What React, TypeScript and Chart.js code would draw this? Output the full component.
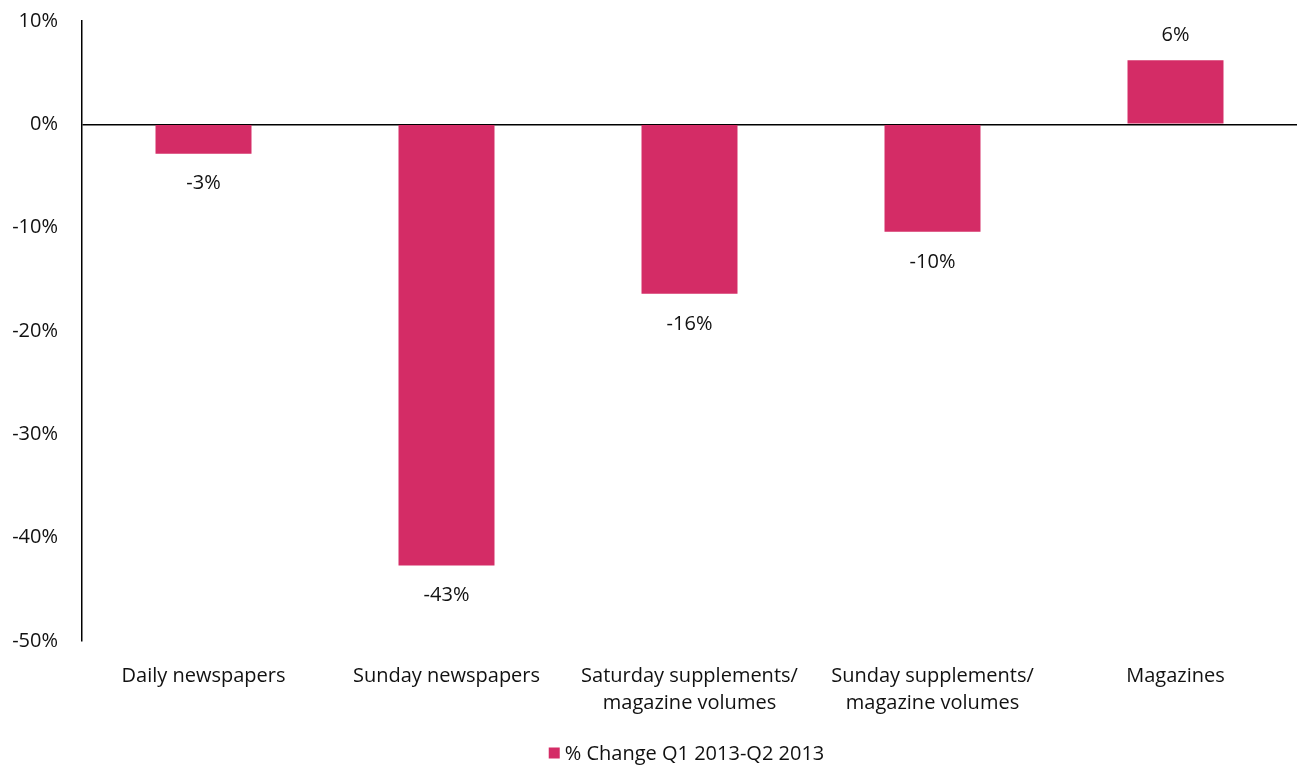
import React, { useEffect, useRef } from "react";
import { Chart, registerables } from "chart.js";

Chart.register(...registerables);

const categories: (string | string[])[] = [
  "Daily newspapers",
  "Sunday newspapers",
  ["Saturday supplements/", "magazine volumes"],
  ["Sunday supplements/", "magazine volumes"],
  "Magazines",
];
const changeValues = [-2.85, -42.7, -16.4, -10.4, 6.2];
const seriesLabel = "% Change Q1 2013-Q2 2013";
const barColor = "#D42C66";
const FONT = "'Open Sans', 'Noto Sans', sans-serif";

const valueLabelPlugin = {
  id: "valueLabels",
  afterDatasetsDraw(chart: any) {
    const { ctx } = chart;
    const meta = chart.getDatasetMeta(0);
    ctx.save();
    ctx.font = `20px ${FONT}`;
    ctx.fillStyle = "#111";
    ctx.textAlign = "center";
    ctx.textBaseline = "middle";
    meta.data.forEach((bar: any, i: number) => {
      const v = changeValues[i];
      const txt = `${Math.round(v)}%`;
      const y = v < 0 ? bar.y + 30 : bar.y - 25;
      ctx.fillText(txt, bar.x, y);
    });
    ctx.restore();
  },
};

const bottomLegendPlugin = {
  id: "bottomLegend",
  afterDraw(chart: any) {
    const { ctx, chartArea, height } = chart;
    const ds = chart.data.datasets[0];
    ctx.save();
    ctx.font = `20px ${FONT}`;
    const tw = ctx.measureText(ds.label).width;
    const box = 11;
    const gap = 5;
    const total = box + gap + tw;
    const cx = (chartArea.left + chartArea.right) / 2 - 3;
    const x0 = cx - total / 2;
    const yMid = height - 12;
    ctx.fillStyle = ds.backgroundColor;
    ctx.fillRect(x0, yMid - box / 2 - 1, box, box);
    ctx.fillStyle = "#111";
    ctx.textAlign = "left";
    ctx.textBaseline = "middle";
    ctx.fillText(ds.label, x0 + box + gap, yMid);
    ctx.restore();
  },
};

export default function App() {
  const ref = useRef<HTMLCanvasElement>(null);
  useEffect(() => {
    if (!ref.current) return;
    const chart = new Chart(ref.current, {
      type: "bar",
      data: {
        labels: categories,
        datasets: [
          {
            label: seriesLabel,
            data: changeValues,
            backgroundColor: barColor,
            barPercentage: 0.395,
            categoryPercentage: 1,
          },
        ],
      },
      options: {
        animation: false,
        responsive: false,
        maintainAspectRatio: false,
        layout: { padding: { top: 21, right: 0, left: 0, bottom: 35 } },
        plugins: {
          tooltip: { enabled: false },
          legend: { display: false },
        },
        scales: {
          x: {
            grid: { display: false, drawTicks: false },
            border: { display: false },
            ticks: {
              color: "#111",
              font: { size: 20, family: FONT, lineHeight: 1.35 },
              padding: 22,
              maxRotation: 0,
              autoSkip: false,
            },
            afterFit(scale: any) {
              scale.height = 90;
              scale.paddingLeft = 0;
              scale.paddingRight = 0;
            },
          },
          y: {
            min: -50,
            max: 10,
            ticks: {
              stepSize: 10,
              color: "#111",
              font: { size: 20, family: FONT },
              padding: 24,
              callback: (v: any) => `${v}%`,
            },
            grid: {
              drawTicks: false,
              color: (c: any) => (c.tick && c.tick.value === 0 ? "#000" : "rgba(0,0,0,0)"),
              lineWidth: 1.5,
            },
            border: { display: true, color: "#000", width: 1.5 },
            afterFit(scale: any) {
              scale.width = 82;
              scale.paddingTop = 0;
              scale.paddingBottom = 0;
            },
          },
        },
      },
      plugins: [valueLabelPlugin, bottomLegendPlugin],
    });
    return () => chart.destroy();
  }, []);
  return (
    <div style={{ position: "fixed", left: 0, top: 0, width: 1297, height: 766, background: "#fff" }}>
      <canvas ref={ref} width={1297} height={766} />
    </div>
  );
}
